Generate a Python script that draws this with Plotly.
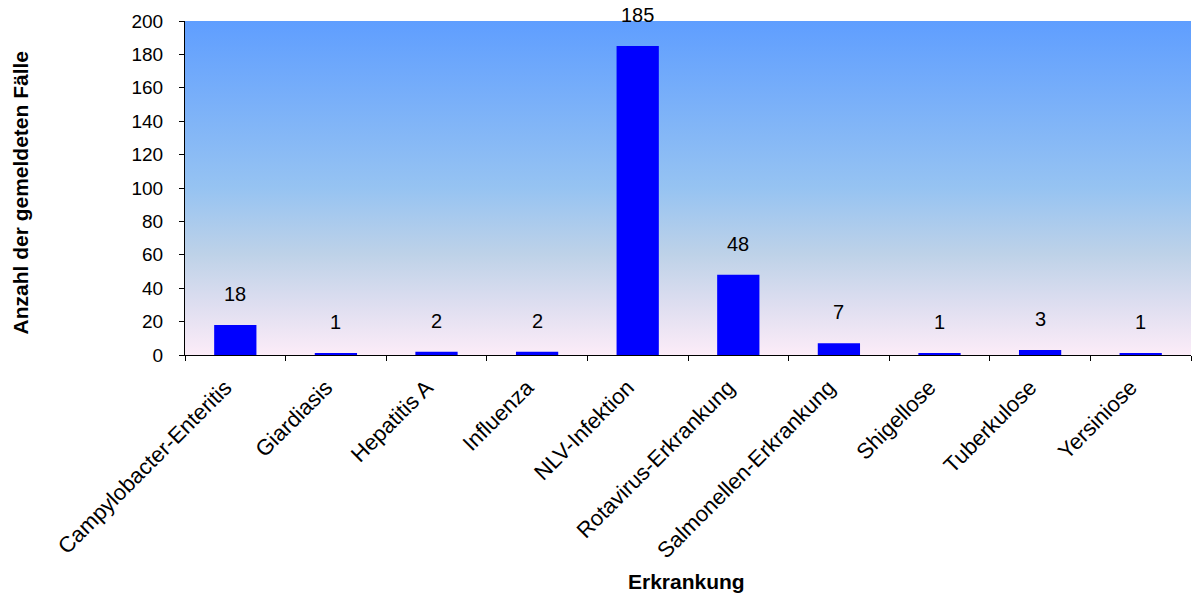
import plotly.graph_objects as go
import base64

categories = ["Campylobacter-Enteritis", "Giardiasis", "Hepatitis A", "Influenza",
              "NLV-Infektion", "Rotavirus-Erkrankung", "Salmonellen-Erkrankung",
              "Shigellose", "Tuberkulose", "Yersiniose"]
values = [18, 1, 2, 2, 185, 48, 7, 1, 3, 1]

FONT = "Liberation Sans, Arial, sans-serif"

fig = go.Figure()
fig.add_trace(go.Bar(
    x=categories, y=values, width=0.42,
    marker=dict(color="#0000FF", line=dict(width=0)),
    showlegend=False, hoverinfo="x+y",
))

for c, v in zip(categories, values):
    fig.add_annotation(x=c, y=v, text=str(v), showarrow=False,
                       yanchor="bottom", yshift=18,
                       font=dict(family=FONT, size=20, color="black"))

# gradient background as an SVG image
svg = ('<svg xmlns="http://www.w3.org/2000/svg" width="100" height="100" preserveAspectRatio="none">'
       '<defs><linearGradient id="g" x1="0" y1="0" x2="0" y2="1">'
       '<stop offset="0" stop-color="rgb(95,158,255)"/>'
       '<stop offset="0.5" stop-color="rgb(150,195,242)"/>'
       '<stop offset="0.7" stop-color="rgb(190,210,232)"/>'
       '<stop offset="0.85" stop-color="rgb(222,222,240)"/>'
       '<stop offset="1" stop-color="rgb(252,236,248)"/>'
       '</linearGradient></defs>'
       '<rect x="0" y="0" width="100" height="100" fill="url(#g)"/></svg>')
src = "data:image/svg+xml;base64," + base64.b64encode(svg.encode()).decode()
fig.add_layout_image(dict(source=src, xref="paper", yref="paper", x=0, y=1,
                          sizex=1, sizey=1, sizing="stretch", xanchor="left",
                          yanchor="top", layer="below"))

# axis titles as annotations
fig.add_annotation(xref="paper", yref="paper", x=0.4985, y=-0.677,
                   text="<b>Erkrankung</b>", showarrow=False,
                   xanchor="center", yanchor="middle",
                   font=dict(family=FONT, size=21, color="black"))
fig.add_annotation(xref="paper", yref="paper", x=-0.164, y=0.4865,
                   text="<b>Anzahl der gemeldeten Fälle</b>", showarrow=False,
                   textangle=-90, xanchor="center", yanchor="middle",
                   font=dict(family=FONT, size=21, color="black"))

fig.update_layout(
    width=1192, height=596,
    margin=dict(l=185, r=1, t=21, b=241),
    paper_bgcolor="white", plot_bgcolor="rgba(0,0,0,0)",
    font=dict(family=FONT, size=19, color="black"),
    xaxis=dict(
        automargin=False,
        tickangle=-45, tickson="boundaries", ticks="outside", ticklen=5,
        tickcolor="black", showline=True, linecolor="black", linewidth=1,
        showgrid=False, tickfont=dict(size=22), ticklabelstandoff=10,
        ticklabelshift=-10,
    ),
    yaxis=dict(
        automargin=False,
        range=[0, 200], dtick=20, ticks="outside", ticklen=5, tickcolor="black",
        showline=True, linecolor="black", linewidth=1, showgrid=False,
        zeroline=False, tickfont=dict(size=19), ticklabelstandoff=12,
    ),
)

fig.write_html("out.html", config={"displayModeBar": False},
               post_script="document.body.style.margin='0px';document.body.style.overflow='hidden';")
